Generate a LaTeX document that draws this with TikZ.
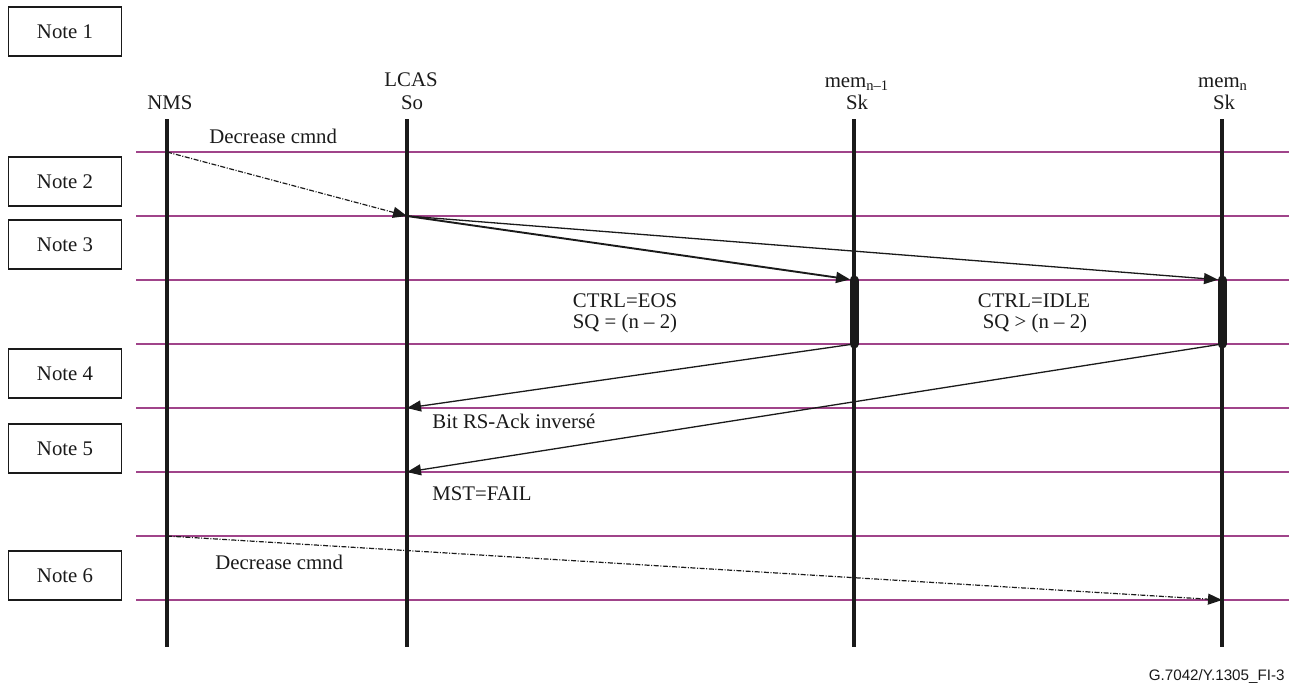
\documentclass[tikz,border=0pt]{standalone}
\usepackage{fontspec}
\setmainfont{Liberation Serif}
\newfontfamily\labelsans{Liberation Sans}
\usetikzlibrary{arrows.meta}
\definecolor{rulecol}{RGB}{160,68,138}
\definecolor{ink}{RGB}{26,26,26}
\begin{document}
\begin{tikzpicture}[x=0.5pt,y=-0.5pt,
  every node/.style={font=\fontsize{10.4}{12.5}\selectfont, inner sep=0pt, text=ink},
  notebox/.style={draw=ink, line width=0.75pt, minimum width=56.5pt, minimum height=24.5pt},
  rowline/.style={draw=rulecol, line width=1.1pt},
  lifeline/.style={draw=ink, line width=1.6pt},
  activebar/.style={draw=ink, line width=4.5pt, line cap=round},
  msg/.style={draw=ink, line width=0.65pt, -{Triangle[length=7pt,width=5.5pt]}},
  dashmsg/.style={draw=ink, line width=0.6pt, dash pattern=on 2.5pt off 0.8pt on 0.5pt off 0.8pt, -{Triangle[length=7pt,width=5.5pt]}},
  lbl/.style={anchor=base west},
  head/.style={anchor=base}
]
\useasboundingbox (0,0) rectangle (1289,682);

% row lines
\foreach \yy in {152,216,280,344,408,472,536,600}
  \draw[rowline] (136,\yy) -- (1289,\yy);

% notes
\node[notebox] (n1) at (65,31.5) {Note 1};
\node[notebox] (n2) at (65,181.5) {Note 2};
\node[notebox] (n3) at (65,244.5) {Note 3};
\node[notebox] (n4) at (65,373.5) {Note 4};
\node[notebox] (n5) at (65,448.5) {Note 5};
\node[notebox] (n6) at (65,575.5) {Note 6};

% headers
\node[head] (hnms) at (170,109) {NMS};
\node[head] (hlcas) at (411,86) {LCAS};
\node[head] (hso) at (412,109) {So};
\node[head] (hmema) at (857,87) {mem\textsubscript{n–1}};
\node[head] (hska) at (857,109) {Sk};
\node[head] (hmemb) at (1223,87) {mem\textsubscript{n}};
\node[head] (hskb) at (1224,109) {Sk};

% lifelines
\coordinate (nmsT) at (167,119);  \coordinate (nmsB) at (167,647);
\coordinate (lcasT) at (407,119); \coordinate (lcasB) at (407,647);
\coordinate (maT) at (854,119);   \coordinate (maB) at (854,647);
\coordinate (mbT) at (1222,119);  \coordinate (mbB) at (1222,647);
\draw[lifeline] (nmsT) -- (nmsB);
\draw[lifeline] (lcasT) -- (lcasB);
\draw[lifeline] (maT) -- (maB);
\draw[lifeline] (mbT) -- (mbB);

% events
\coordinate (e1) at (167,152);
\coordinate (e2) at (407,216);
\coordinate (e3) at (854,280);
\coordinate (e4) at (1222,280);
\coordinate (e5) at (854,344);
\coordinate (e6) at (1222,344);
\coordinate (e7) at (407,408);
\coordinate (e8) at (407,472);
\coordinate (e9) at (167,536);
\coordinate (e10) at (1222,600);

% activation bars
\draw[activebar] (e3) -- (e5);
\draw[activebar] (e4) -- (e6);

% messages
\draw[dashmsg] (e1) -- (e2);
\draw[msg, line width=0.95pt, shorten >=2pt] (e2) -- (e3);
\draw[msg, shorten >=2pt] (e2) -- (e4);
\draw[msg] (e5) -- (e7);
\draw[msg] (e6) -- (e8);
\draw[dashmsg] (e9) -- (e10);

% labels
\node[lbl] (l1) at (209,143) {Decrease cmnd};
\node[head] (l2a) at (625,307) {CTRL=EOS};
\node[head] (l2b) at (625,328) {SQ = (n – 2)};
\node[head] (l3a) at (1034,307) {CTRL=IDLE};
\node[head] (l3b) at (1035,328) {SQ > (n – 2)};
\node[lbl] (l4) at (432,428) {Bit RS-Ack inversé};
\node[lbl] (l5) at (432,500) {MST=FAIL};
\node[lbl] (l6) at (215,569) {Decrease cmnd};
\node[anchor=base east, font=\labelsans\fontsize{7.6}{9}\selectfont] (fig) at (1285,680) {G.7042/Y.1305\_FI-3};
\end{tikzpicture}
\end{document}
